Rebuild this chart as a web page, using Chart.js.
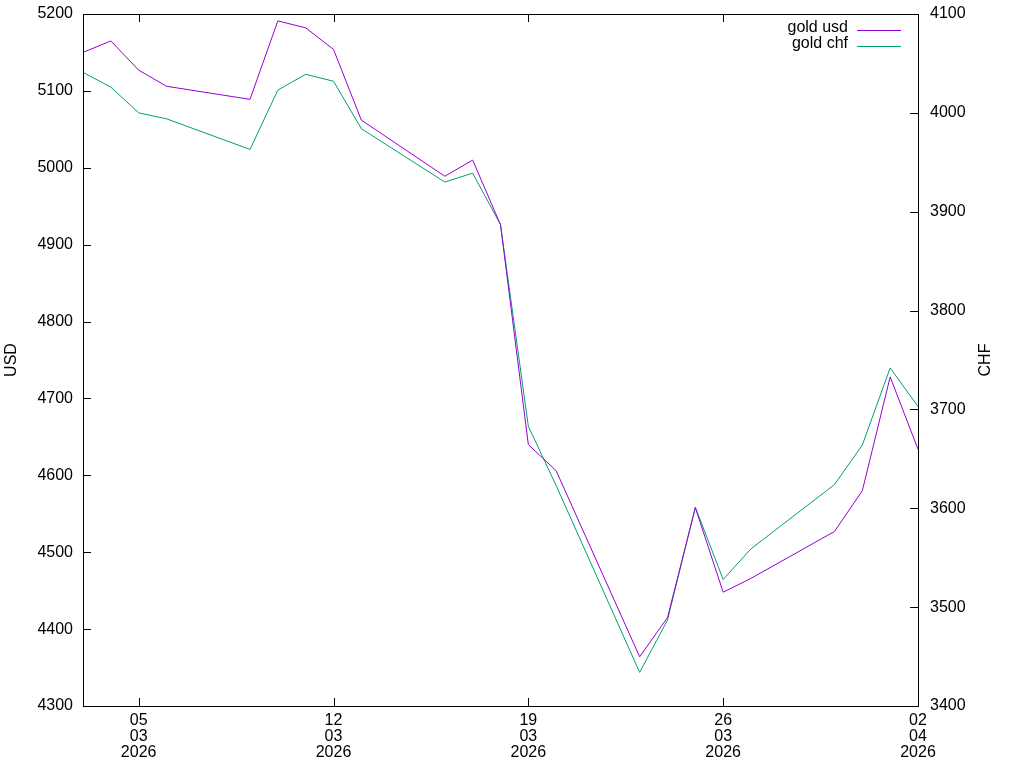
<!DOCTYPE html>
<html>
<head>
<meta charset="utf-8">
<title>gold usd / chf</title>
<script src="https://cdn.jsdelivr.net/npm/chart.js@4/dist/chart.umd.min.js"></script>
<style>
  html, body { margin: 0; padding: 0; background: #fff; }
  canvas { display: block; }
</style>
</head>
<body>
<canvas id="goldChart" width="1024" height="768"></canvas>
<script>
const dates = ['2026-03-03','2026-03-04','2026-03-05','2026-03-06','2026-03-09','2026-03-10','2026-03-11','2026-03-12','2026-03-13','2026-03-16','2026-03-17','2026-03-18','2026-03-19','2026-03-20','2026-03-23','2026-03-24','2026-03-25','2026-03-26','2026-03-27','2026-03-30','2026-03-31','2026-04-01','2026-04-02']
const goldUsd = [5150,5165,5127,5106,5089,5191,5182,5154,5062,4989,5010,4926,4640,4606,4364,4415,4558,4448,4466,4527,4580,4728,4634]
const goldChf = [4041,4026,4000,3994,3963,4023,4039,4032,3984,3930,3939,3887,3683,3623,3434,3487,3601,3528,3559,3624,3664,3742,3703]
const tickDates = ['2026-03-05','2026-03-12','2026-03-19','2026-03-26','2026-04-02']
const xMinDate = '2026-03-03'
const xMaxDate = '2026-04-02'

const FONT = '"Liberation Sans", Arial, sans-serif'

const toDay = (s) => {
    const [y, m, d] = s.split('-').map(Number)
    return Date.UTC(y, m - 1, d) / 864e5
}
const fromDay = (v) => {
    const dt = new Date(v * 864e5)
    const dd = String(dt.getUTCDate()).padStart(2, '0')
    const mm = String(dt.getUTCMonth() + 1).padStart(2, '0')
    return [dd, mm, String(dt.getUTCFullYear())]
}

const usdPoints = dates.map((d, i) => ({x: toDay(d), y: goldUsd[i]}))
const chfPoints = dates.map((d, i) => ({x: toDay(d), y: goldChf[i]}))

// fixed box sizes so the plot area sits where gnuplot put it
const fixBox = (w) => (scale) => {
    scale.width = w
    scale.paddingTop = 0
    scale.paddingBottom = 0
}

// gnuplot-like frame, inward ticks, axis labels and key
const gnuplotFrame = {
    id: 'gnuplotFrame',
    afterDraw(chart) {
        const {ctx, chartArea: a, scales} = chart
        const tl = 8
        ctx.save()
        ctx.strokeStyle = '#000'
        ctx.lineWidth = 1
        ctx.strokeRect(a.left + 0.5, a.top + 0.5, a.right - a.left, a.bottom - a.top)
        ctx.beginPath()
        scales.x.ticks.forEach(t => {
            const px = Math.round(scales.x.getPixelForValue(t.value)) + 0.5
            ctx.moveTo(px, a.bottom); ctx.lineTo(px, a.bottom - tl)
            ctx.moveTo(px, a.top); ctx.lineTo(px, a.top + tl)
        })
        scales.y.ticks.forEach(t => {
            const py = Math.round(scales.y.getPixelForValue(t.value)) + 0.5
            ctx.moveTo(a.left, py); ctx.lineTo(a.left + tl, py)
        })
        scales.y2.ticks.forEach(t => {
            const py = Math.round(scales.y2.getPixelForValue(t.value)) + 0.5
            ctx.moveTo(a.right, py); ctx.lineTo(a.right - tl, py)
        })
        ctx.stroke()

        ctx.fillStyle = '#000'
        ctx.font = '16px ' + FONT
        ctx.textAlign = 'center'
        ctx.textBaseline = 'middle'
        const midY = (a.top + a.bottom) / 2
        ctx.save()
        ctx.translate(12, midY)
        ctx.rotate(-Math.PI / 2)
        ctx.fillText('USD', 0, 0)
        ctx.restore()
        ctx.save()
        ctx.translate(986, midY)
        ctx.rotate(-Math.PI / 2)
        ctx.fillText('CHF', 0, 0)
        ctx.restore()

        ctx.textAlign = 'right'
        chart.data.datasets.forEach((ds, i) => {
            const y = 28 + i * 16
            ctx.fillText(ds.label, 848, y)
            ctx.beginPath()
            ctx.strokeStyle = ds.borderColor
            ctx.moveTo(857, y + 2.5)
            ctx.lineTo(901, y + 2.5)
            ctx.stroke()
        })
        ctx.restore()
    }
}

const ctl = document.getElementById('goldChart')
window.goldChart = new Chart(ctl, {
    type: 'line',
    data: {
        datasets: [
            {
                label: 'gold usd',
                data: usdPoints,
                yAxisID: 'y',
                borderColor: '#9400d3',
                borderWidth: 1,
                pointRadius: 0,
                tension: 0,
                fill: false
            },
            {
                label: 'gold chf',
                data: chfPoints,
                yAxisID: 'y2',
                borderColor: '#009e73',
                borderWidth: 1,
                pointRadius: 0,
                tension: 0,
                fill: false
            }
        ]
    },
    options: {
        responsive: false,
        animation: false,
        devicePixelRatio: 1,
        layout: {
            autoPadding: false,
            padding: {top: 14, left: 0, right: 0, bottom: 0}
        },
        plugins: {
            legend: {display: false},
            tooltip: {enabled: false},
            title: {display: false}
        },
        scales: {
            x: {
                type: 'linear',
                position: 'bottom',
                min: toDay(xMinDate),
                max: toDay(xMaxDate),
                afterBuildTicks: (scale) => {
                    scale.ticks = tickDates.map(d => ({value: toDay(d)}))
                },
                afterFit: (scale) => { scale.height = 62 },
                grid: {display: false, drawTicks: false},
                border: {display: false},
                ticks: {
                    color: '#000',
                    padding: 7,
                    maxRotation: 0,
                    autoSkip: false,
                    font: {family: FONT, size: 16, lineHeight: 1.0},
                    callback: (v) => fromDay(v)
                }
            },
            y: {
                type: 'linear',
                position: 'left',
                min: 4300,
                max: 5200,
                afterFit: fixBox(83),
                grid: {display: false, drawTicks: false},
                border: {display: false},
                ticks: {
                    stepSize: 100,
                    color: '#000',
                    padding: 10,
                    font: {family: FONT, size: 16},
                    callback: (v) => String(v)
                }
            },
            y2: {
                type: 'linear',
                position: 'right',
                min: 3400,
                max: 4100,
                afterFit: fixBox(106),
                grid: {display: false, drawTicks: false},
                border: {display: false},
                ticks: {
                    stepSize: 100,
                    color: '#000',
                    padding: 12,
                    font: {family: FONT, size: 16},
                    callback: (v) => String(v)
                }
            }
        }
    },
    plugins: [gnuplotFrame]
})
</script>
</body>
</html>
